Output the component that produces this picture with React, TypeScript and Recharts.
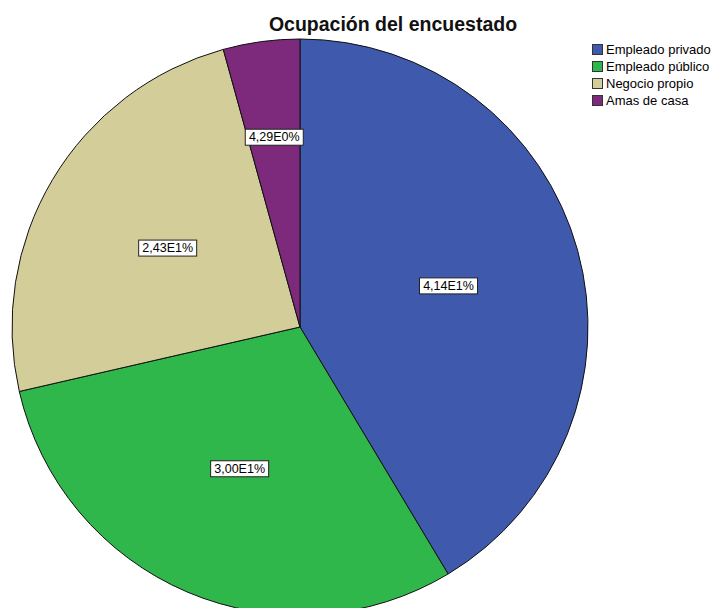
import React from 'react';
import { PieChart, Pie, Cell, Legend } from 'recharts';

const categories = ['Empleado privado', 'Empleado público', 'Negocio propio', 'Amas de casa'];
const percents = [41.4, 30.0, 24.3, 4.29];
const colors = ['#3f59ac', '#30b74b', '#d3cd99', '#7d2a7c'];

const data = categories.map((name, i) => ({ name, value: percents[i] }));

// SPSS-style scientific notation with comma decimal: 4,14E1%
function sci(v: number) {
  const e = Math.floor(Math.log10(v));
  const m = (v / Math.pow(10, e)).toFixed(2).replace('.', ',');
  return m + 'E' + e + '%';
}

const RAD = Math.PI / 180;

function renderLabel(props: any) {
  const { cx, cy, midAngle, outerRadius, percent, value } = props;
  const r = outerRadius * (percent < 0.1 ? 0.665 : 0.535);
  const x = cx + r * Math.cos(-midAngle * RAD);
  const y = cy + r * Math.sin(-midAngle * RAD);
  const txt = sci(value);
  const w = 58;
  const h = 16;
  return (
    <g>
      <rect x={x - w / 2} y={y - h / 2} width={w} height={h} fill="#fff" stroke="#222" strokeWidth={1} />
      <text x={x} y={y} textAnchor="middle" dominantBaseline="central" fontSize={12.5} fill="#000"
        fontFamily="Liberation Sans, Arial, sans-serif">
        {txt}
      </text>
    </g>
  );
}

function LegendBox() {
  return (
    <div style={{ fontFamily: 'Liberation Sans, Arial, sans-serif', fontSize: 13, color: '#000' }}>
      {categories.map((c, i) => (
        <div key={c} style={{ display: 'flex', alignItems: 'center', height: 17 }}>
          <span style={{ width: 11, height: 11, background: colors[i], border: '1px solid #333', marginRight: 3, boxSizing: 'border-box' }} />
          <span>{c}</span>
        </div>
      ))}
    </div>
  );
}

export default function App() {
  return (
    <div style={{ position: 'absolute', left: 0, top: 0, width: 715, height: 608, background: '#fff', overflow: 'hidden' }}>
      <div style={{ position: 'absolute', left: 0, top: 13, width: 786, textAlign: 'center', fontFamily: 'Liberation Sans, Arial, sans-serif', fontWeight: 'bold', fontSize: 19.5, color: '#111' }}>
        Ocupación del encuestado
      </div>
      <PieChart width={715} height={608} margin={{ top: 0, right: 0, bottom: 0, left: 0 }}>
        <Pie
          data={data}
          dataKey="value"
          nameKey="name"
          cx={300}
          cy={327}
          outerRadius={288}
          startAngle={90}
          endAngle={-270}
          stroke="#111"
          strokeWidth={1}
          labelLine={false}
          label={renderLabel}
          isAnimationActive={false}
        >
          {data.map((entry, index) => (
            <Cell key={'cell-' + index} fill={colors[index]} />
          ))}
        </Pie>
        <Legend
          layout="vertical"
          align="right"
          verticalAlign="top"
          content={() => <LegendBox />}
          wrapperStyle={{ position: 'absolute', left: 592, top: 41, width: 123 }}
        />
      </PieChart>
    </div>
  );
}
